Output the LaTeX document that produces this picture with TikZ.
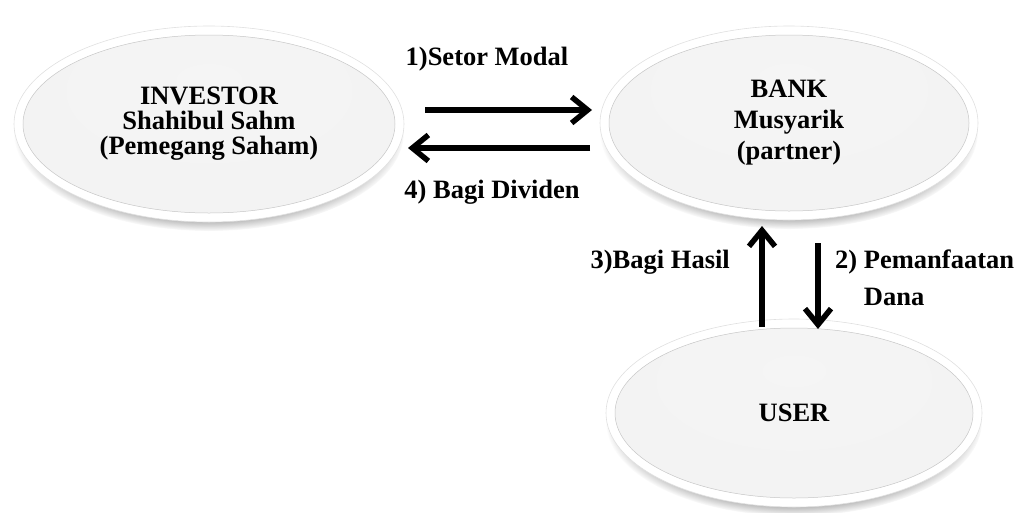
\documentclass[tikz,border=0pt]{standalone}
\usepackage{fontspec}
\setmainfont{Liberation Serif}
\usetikzlibrary{shapes.geometric,shadows,arrows.meta,fadings}
\pgfdeclareradialshading{bubshade}{\pgfpoint{0bp}{12bp}}{color(0bp)=(black!4); color(36bp)=(black!5); color(50bp)=(black!12); color(58bp)=(black!32); color(62bp)=(black!45)}
\tikzset{
  bubble/.style n args={2}{ellipse, minimum width=#1pt, minimum height=#2pt,
    fill=white, draw=black!12, line width=0.6pt, align=center,
    font=\bfseries\fontsize{26.5}{25}\selectfont,
    circular drop shadow={shadow xshift=0pt, shadow yshift=-9pt, shadow scale=1.0, opacity=0.65, fill=black!60},
    path picture={\shade[shading=bubshade, draw=black!22, line width=0.5pt]
      (path picture bounding box.center) ellipse [x radius=#1/2-9, y radius=#2/2-9];}},
  lbl/.style={font=\bfseries\fontsize{26.5}{37}\selectfont, inner sep=0pt},
  flow/.style={line width=5.5pt, -{Straight Barb[length=16pt,width=26pt]}}
}
\begin{document}
\begin{tikzpicture}[x=1pt,y=-1pt]
\useasboundingbox (0,0) rectangle (1022,512);
\node[bubble={390}{196}] (inv) at (209,124) {INVESTOR\\Shahibul Sahm\\(Pemegang Saham)};
\node[bubble={378}{194}, font=\bfseries\fontsize{26.5}{31}\selectfont] (bank) at (789,123) {BANK\\Musyarik\\(partner)};
\node[bubble={376}{188}] (user) at (794,413) {USER};

\coordinate (a1s) at (425,110); \coordinate (a1e) at (592,110);
\coordinate (a4s) at (590,148); \coordinate (a4e) at (408,148);
\coordinate (a3s) at (762,327); \coordinate (a3e) at (762,226);
\coordinate (a2s) at (818,243); \coordinate (a2e) at (818,329);
\draw[flow] (a1s) -- (a1e);
\draw[flow] (a4s) -- (a4e);
\draw[flow] (a3s) -- (a3e);
\draw[flow] (a2s) -- (a2e);

\node[lbl, anchor=base] (l1) at (487,65) {1)Setor Modal};
\node[lbl, anchor=base] (l4) at (492,198) {4) Bagi Dividen};
\node[lbl, anchor=base east] (l3) at (730,268) {3)Bagi Hasil};
\node[lbl, anchor=base west, align=left] (l2) at (835,305) {2) Pemanfaatan\\\phantom{2) }Dana};
\end{tikzpicture}
\end{document}
